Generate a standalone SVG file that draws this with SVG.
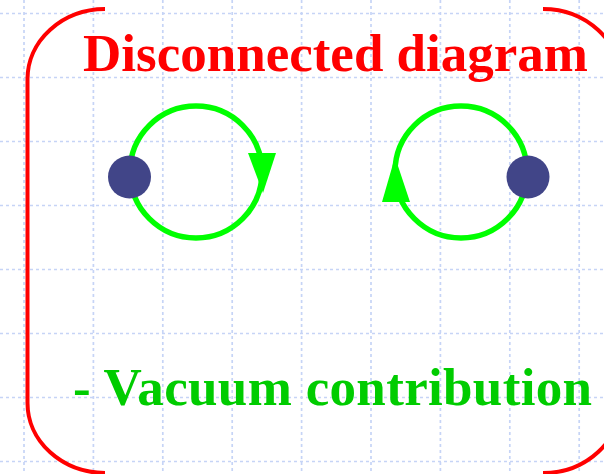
<svg xmlns="http://www.w3.org/2000/svg" width="604" height="474" viewBox="0 0 604 474">
<style>
.grid line{stroke:#c6d4f6;stroke-width:1.7;stroke-dasharray:3 3}
.br{fill:none;stroke:#ff0000;stroke-width:4}
.loop{fill:none;stroke:#00ff00;stroke-width:5.5}
.arr{fill:#00ff00}
.dot{fill:#414588}
.t{font-family:"Liberation Serif","Times New Roman",serif;font-weight:bold;font-size:53px}
</style>
<rect width="604" height="474" fill="#ffffff"/>
<g class="grid">
<line x1="24" y1="0" x2="24" y2="474"/>
<line x1="93.4" y1="0" x2="93.4" y2="474"/>
<line x1="162.8" y1="0" x2="162.8" y2="474"/>
<line x1="232.2" y1="0" x2="232.2" y2="474"/>
<line x1="301.6" y1="0" x2="301.6" y2="474"/>
<line x1="371" y1="0" x2="371" y2="474"/>
<line x1="440.4" y1="0" x2="440.4" y2="474"/>
<line x1="509.8" y1="0" x2="509.8" y2="474"/>
<line x1="579.2" y1="0" x2="579.2" y2="474"/>
<line x1="0" y1="13.5" x2="604" y2="13.5"/>
<line x1="0" y1="77.5" x2="604" y2="77.5"/>
<line x1="0" y1="141.5" x2="604" y2="141.5"/>
<line x1="0" y1="205.5" x2="604" y2="205.5"/>
<line x1="0" y1="269.5" x2="604" y2="269.5"/>
<line x1="0" y1="333.5" x2="604" y2="333.5"/>
<line x1="0" y1="397.5" x2="604" y2="397.5"/>
<line x1="0" y1="461.5" x2="604" y2="461.5"/>
</g>
<g id="brackets">
<path class="br" d="M105,9 A78,70 0 0 0 27.5,79 L27.5,403 A78,70 0 0 0 105,473"/>
<path class="br" d="M543,9 A78,72 0 0 1 621,81 L621,401 A78,72 0 0 1 543,473"/>
</g>
<g id="connectors">
<g id="loop-left">
<circle class="loop" cx="196" cy="172" r="66"/>
<polygon class="arr" points="248,153 276,153 263,193"/>
</g>
<g id="loop-right">
<circle class="loop" cx="461" cy="172" r="66"/>
<polygon class="arr" points="382,202 410,202 395,157"/>
</g>
</g>
<g id="vertex-left"><circle class="dot" cx="129.5" cy="177" r="21.5"/></g>
<g id="vertex-right"><circle class="dot" cx="528" cy="177" r="21.5"/></g>
<g id="title"><text class="t" x="83" y="71" fill="#ff0000" textLength="505" lengthAdjust="spacing">Disconnected diagram</text></g>
<g id="caption"><text class="t" x="73" y="405" fill="#00cc00" textLength="519" lengthAdjust="spacing">- Vacuum contribution</text></g>
</svg>
